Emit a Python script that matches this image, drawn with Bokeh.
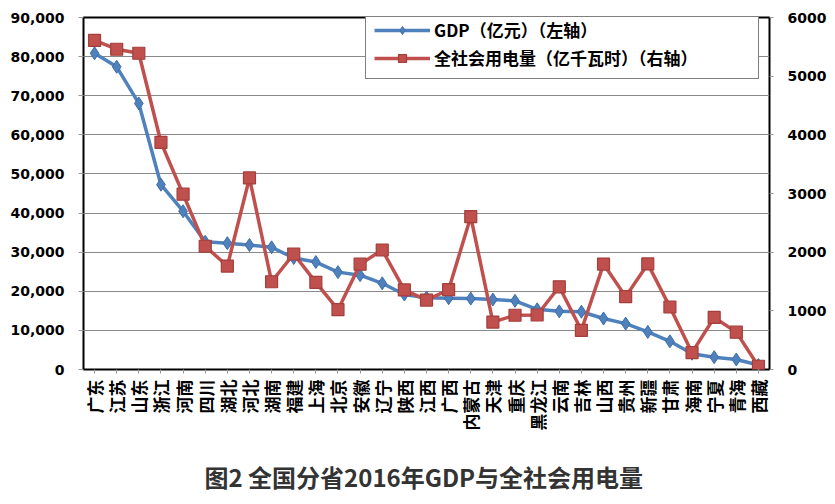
import math
from bokeh.plotting import figure
from bokeh.models import (FactorRange, Range1d, LinearAxis, SingleIntervalTicker,
                          NumeralTickFormatter, Legend, LegendItem, ColumnDataSource)
from bokeh.embed import file_html
from bokeh.resources import INLINE

provinces = ["广东", "江苏", "山东", "浙江", "河南", "四川", "湖北", "河北", "湖南", "福建",
             "上海", "北京", "安徽", "辽宁", "陕西", "江西", "广西", "内蒙古", "天津", "重庆",
             "黑龙江", "云南", "吉林", "山西", "贵州", "新疆", "甘肃", "海南", "宁夏", "青海", "西藏"]
gdp = [80855, 77388, 68024, 47251, 40472, 32681, 32298, 31828, 31245, 28519,
       27466, 24899, 24118, 22038, 19165, 18364, 18245, 18128, 17885, 17559,
       15386, 14870, 14777, 13050, 11734, 9617, 7200, 4045, 3150, 2572, 1148]
power = [5610, 5459, 5391, 3873, 2989, 2101, 1763, 3265, 1496, 1969,
         1486, 1020, 1795, 2037, 1357, 1183, 1360, 2605, 808, 925,
         929, 1410, 668, 1797, 1242, 1800, 1065, 287, 887, 637, 55]

gdp_label = "GDP（亿元）（左轴）"
power_label = "全社会用电量（亿千瓦时）（右轴）"
title_text = "图2  全国分省2016年GDP与全社会用电量"

src = ColumnDataSource(dict(prov=provinces, gdp=gdp, power=power))

p = figure(width=835, height=504,
           x_range=FactorRange(factors=provinces, range_padding=0),
           y_range=Range1d(0, 90000),
           output_backend="svg", toolbar_location=None,
           min_border_left=83, min_border_right=66,
           min_border_top=17, min_border_bottom=135)
p.extra_y_ranges = {"power": Range1d(0, 6000)}

p.background_fill_color = "white"
p.border_fill_color = "white"
p.outline_line_color = "black"
p.outline_line_width = 2

p.xgrid.visible = False
p.ygrid.grid_line_color = "#8a8a8a"
p.ygrid.grid_line_width = 1

tick_font = "DejaVu Sans"

yax = p.yaxis[0]
yax.ticker = SingleIntervalTicker(interval=10000)
yax.formatter = NumeralTickFormatter(format="0,0")
yax.major_label_text_font = tick_font
yax.major_label_text_font_style = "bold"
yax.major_label_text_font_size = "14px"
yax.major_label_text_color = "black"
yax.axis_line_color = None
yax.major_tick_line_color = "#999999"
yax.major_tick_in = 0
yax.major_tick_out = 5
yax.minor_tick_line_color = None
yax.major_label_standoff = 14

rax = LinearAxis(y_range_name="power", ticker=SingleIntervalTicker(interval=1000))
rax.major_label_text_font = tick_font
rax.major_label_text_font_style = "bold"
rax.major_label_text_font_size = "14px"
rax.major_label_text_color = "black"
rax.axis_line_color = None
rax.major_tick_line_color = "#999999"
rax.major_tick_in = 0
rax.major_tick_out = 4
rax.minor_tick_line_color = None
rax.major_label_standoff = 14
p.add_layout(rax, "right")

xax = p.xaxis[0]
xax.major_label_orientation = math.pi / 2
xax.major_label_text_font = "Noto Sans CJK SC"
xax.major_label_text_font_style = "bold"
xax.major_label_text_font_size = "17px"
xax.major_label_text_color = "black"
xax.axis_line_color = None
xax.major_tick_line_color = "#999999"
xax.major_tick_in = 0
xax.major_tick_out = 4
xax.major_label_standoff = 6
# chart caption drawn as the category axis label, below the province names
xax.axis_label = title_text
xax.axis_label_text_font = "Noto Sans CJK SC"
xax.axis_label_text_font_style = "bold"
xax.axis_label_text_font_size = "24px"
xax.axis_label_text_color = "#333333"
xax.axis_label_standoff = 26

blue = "#4F81BD"
red = "#C0504D"

bl = p.line("prov", "gdp", source=src, line_color=blue, line_width=3.5)
bs = p.scatter("prov", "gdp", source=src, marker="diamond", size=13,
               fill_color=blue, line_color="#3C6EA8", line_width=1)
rl = p.line("prov", "power", source=src, y_range_name="power", line_color=red, line_width=3.5)
rs = p.scatter("prov", "power", source=src, y_range_name="power", marker="square", size=12,
               fill_color=red, line_color="#A33E3B", line_width=1.2)

legend = Legend(items=[LegendItem(label=gdp_label, renderers=[bl, bs]),
                       LegendItem(label=power_label, renderers=[rl, rs])],
                location=(282, 290))
legend.label_text_font = "Noto Sans CJK SC"
legend.label_text_font_style = "bold"
legend.label_text_font_size = "17px"
legend.label_text_color = "black"
legend.label_width = 316
legend.label_height = 20
legend.glyph_width = 56
legend.glyph_height = 20
legend.label_standoff = 4
legend.spacing = 3
legend.padding = 8
legend.margin = 0
legend.border_line_color = "black"
legend.border_line_width = 1.5
legend.background_fill_color = "white"
legend.background_fill_alpha = 1
p.add_layout(legend, "center")

open("out.html", "w").write(file_html(p, INLINE))
